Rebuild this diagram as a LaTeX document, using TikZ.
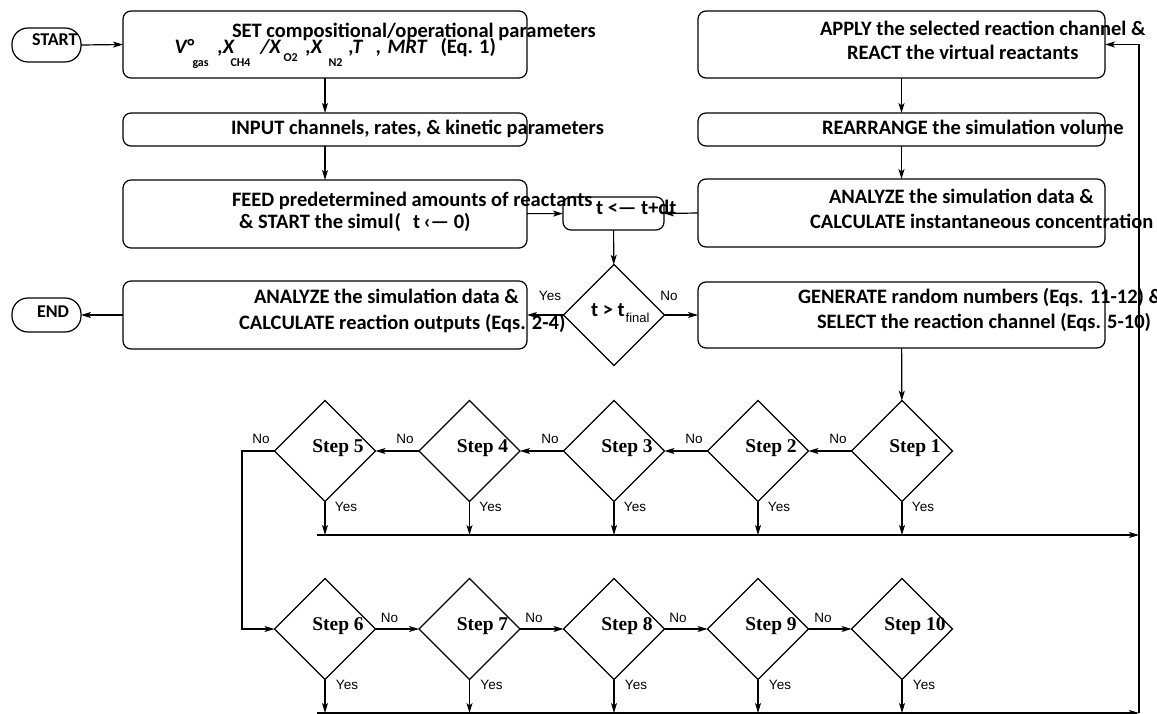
\documentclass[tikz,border=0pt]{standalone}
\usepackage{fontspec}
\setmainfont{Carlito}
\newfontfamily\lblfont{Liberation Sans}
\newfontfamily\stepfont{Liberation Serif}
\usetikzlibrary{shapes.geometric,arrows.meta}
\newcommand\pfrag[2]{\rlap{\hspace*{#1pt}#2}}
\newcommand\psub[2]{\raisebox{#1pt}{\fontsize{12}{14}\selectfont #2}}
\begin{document}
\begin{tikzpicture}[x=1pt,y=-1pt,
  every node/.style={inner sep=0pt, outer sep=0pt},
  ln/.style={line width=1.2pt},
  arr/.style={line width=1.2pt, -{Stealth[length=10pt,width=6pt,inset=2.5pt]}},
  box/.style={draw, rounded corners=8pt, line width=1.2pt},
  lbox/.style={box, minimum width=404pt},
  rbox/.style={box, minimum width=407pt},
  term/.style={draw, rounded corners=16pt, line width=1.2pt, minimum width=69pt, minimum height=34pt},
  dia/.style={draw, diamond, aspect=1, minimum width=101pt, minimum height=101pt, line width=1.2pt},
  steplbl/.style={font=\stepfont\bfseries\fontsize{19.5}{22}\selectfont, xshift=13pt, yshift=3pt},
  txt/.style={anchor=base west, font=\bfseries\fontsize{20.5}{24}\selectfont},
  lbl/.style={font=\lblfont\fontsize{13.5}{15}\selectfont}
]
\useasboundingbox (0,0) rectangle (1157,714);
\clip (0,0) rectangle (1157,714);
\fill[white] (0,0) rectangle (1157,714);

% terminals
\node[term] (start) at (46.5,45) {};
\node[txt, font=\bfseries\fontsize{18}{20}\selectfont] (startT) at (32,45.5) {START};
\node[term] (end) at (46.5,315) {};
\node[txt, font=\bfseries\fontsize{18}{20}\selectfont] (endT) at (37,317.5) {END};

% left column
\node[lbox, minimum height=67pt] (set) at (325,44.5) {};
\node[txt] (setA) at (232,38) {SET compositional/operational parameters};
\node[txt] (setB) at (174,54) {\pfrag{0}{\itshape V°}\pfrag{18}{\psub{-13}{gas}}\pfrag{43}{\itshape ,X}\pfrag{56}{\psub{-13}{CH4}}\pfrag{86}{\itshape /X}\pfrag{109}{\psub{-8}{O2}}\pfrag{131}{\itshape ,X}\pfrag{154}{\psub{-13}{N2}}\pfrag{174}{\itshape ,T}\pfrag{201}{,}\pfrag{213}{\itshape MRT}\pfrag{266}{(Eq. 1)}};

\node[lbox, minimum height=33pt] (input) at (325,129.5) {};
\node[txt] (inputT) at (231,134.5) {INPUT channels, rates, \& kinetic parameters};

\node[lbox, minimum height=68pt] (feed) at (325,214) {};
\node[txt] (feedA) at (232,206.5) {FEED predetermined amounts of reactants};
\node[txt] (feedB) at (239,228.5) {\& START the simul\hspace{1pt}(\hspace{12pt}t\,‹— 0)};

\node[lbox, minimum height=68pt] (anout) at (325,315) {};
\node[txt] (anoutA) at (254,303.5) {ANALYZE the simulation data \&};
\node[txt] (anoutB) at (239,329.5) {CALCULATE reaction outputs (Eqs. 2-4)};

% middle
\node[box, minimum width=101pt, minimum height=33pt] (tbox) at (613.5,213.5) {};
\node[txt] (tboxT) at (596,214.5) {t <— t+dt};
\node[dia] (dec) at (614,315) {};
\node[txt] (decT) at (591,316.5) {t > t\hspace{1pt}\raisebox{-6pt}{\lblfont\mdseries\fontsize{13}{14}\selectfont final}};

% right column
\node[rbox, minimum height=67pt] (apply) at (901.5,44.5) {};
\node[txt] (applyA) at (820,35.5) {APPLY the selected reaction channel \&};
\node[txt] (applyB) at (847,59.5) {REACT the virtual reactants};

\node[rbox, minimum height=33pt] (rearr) at (901.5,129.5) {};
\node[txt] (rearrT) at (822,134.5) {REARRANGE the simulation volume};

\node[rbox, minimum height=68pt] (ancon) at (901.5,213) {};
\node[txt] (anconA) at (829,203.5) {ANALYZE the simulation data \&};
\node[txt] (anconB) at (810,228.5) {CALCULATE instantaneous concentration};

\node[rbox, minimum height=66pt] (gen) at (901.5,315) {};
\node[txt] (genA) at (798,303.5) {GENERATE random numbers (Eqs. 11-12) \&};
\node[txt] (genB) at (817,328.5) {SELECT the reaction channel (Eqs. 5-10)};

% steps
\node[dia, label={[steplbl]center:Step 1}] (s1) at (902,451) {};
\node[dia, label={[steplbl]center:Step 2}] (s2) at (758,451) {};
\node[dia, label={[steplbl]center:Step 3}] (s3) at (614,451) {};
\node[dia, label={[steplbl]center:Step 4}] (s4) at (469.5,451) {};
\node[dia, label={[steplbl]center:Step 5}] (s5) at (325,451) {};
\node[dia, label={[steplbl]center:Step 6}] (s6) at (325,629) {};
\node[dia, label={[steplbl]center:Step 7}] (s7) at (469.5,629) {};
\node[dia, label={[steplbl]center:Step 8}] (s8) at (614,629) {};
\node[dia, label={[steplbl]center:Step 9}] (s9) at (758,629) {};
\node[dia, label={[steplbl]center:Step 10}] (s10) at (902,629) {};

\coordinate (yl1) at (317,535);
\coordinate (fb1) at (1139,535);
\coordinate (yl2) at (317,713);
\coordinate (fb2) at (1139,713);
\coordinate (c5) at (242,451);

% connectors
\draw[arr] (start.east) -- (set.west);
\draw[arr] (set) -- (input);
\draw[arr] (input) -- (feed);
\draw[arr] (feed) -- (tbox);
\draw[arr] (ancon.west) -- (tbox.east);
\draw[arr] (tbox) -- (dec);
\draw[arr] (dec) -- (anout);
\draw[arr] (anout) -- (end);
\draw[arr] (dec) -- (gen);
\draw[arr] (gen) -- (s1);
\draw[arr] (apply) -- (rearr);
\draw[arr] (rearr) -- (ancon);

\draw[arr] (s1) -- (s2);
\draw[arr] (s2) -- (s3);
\draw[arr] (s3) -- (s4);
\draw[arr] (s4) -- (s5);
\draw[arr] (s5.west) -- (c5) |- (s6.west);
\draw[arr] (s6) -- (s7);
\draw[arr] (s7) -- (s8);
\draw[arr] (s8) -- (s9);
\draw[arr] (s9) -- (s10);

\foreach \s in {s1,s2,s3,s4,s5}{\draw[arr] (\s.south) -- (\s.south |- yl1);}
\foreach \s in {s6,s7,s8,s9,s10}{\draw[arr] (\s.south) -- (\s.south |- yl2);}
\draw[arr] (yl1) -- (fb1);
\draw[arr] (yl2) -- (fb2);
\draw[arr] (fb2) |- (apply.east);

% labels
\node[lbl] (decY) at (550,296) {Yes};
\node[lbl] (decN) at (669,296) {No};
\node[lbl] (n1) at (838,439) {No};
\node[lbl] (n2) at (694,439) {No};
\node[lbl] (n3) at (550,439) {No};
\node[lbl] (n4) at (405,439) {No};
\node[lbl] (n5) at (261,439) {No};
\node[lbl] (n6) at (389.5,618) {No};
\node[lbl] (n7) at (534,618) {No};
\node[lbl] (n8) at (678,618) {No};
\node[lbl] (n9) at (823,618) {No};
\node[lbl] (y1) at (923,507) {Yes};
\node[lbl] (y2) at (779,507) {Yes};
\node[lbl] (y3) at (635,507) {Yes};
\node[lbl] (y4) at (490.5,507) {Yes};
\node[lbl] (y5) at (346,507) {Yes};
\node[lbl] (y6) at (347,685) {Yes};
\node[lbl] (y7) at (491.5,685) {Yes};
\node[lbl] (y8) at (636,685) {Yes};
\node[lbl] (y9) at (780,685) {Yes};
\node[lbl] (y10) at (924,685) {Yes};
\end{tikzpicture}
\end{document}
